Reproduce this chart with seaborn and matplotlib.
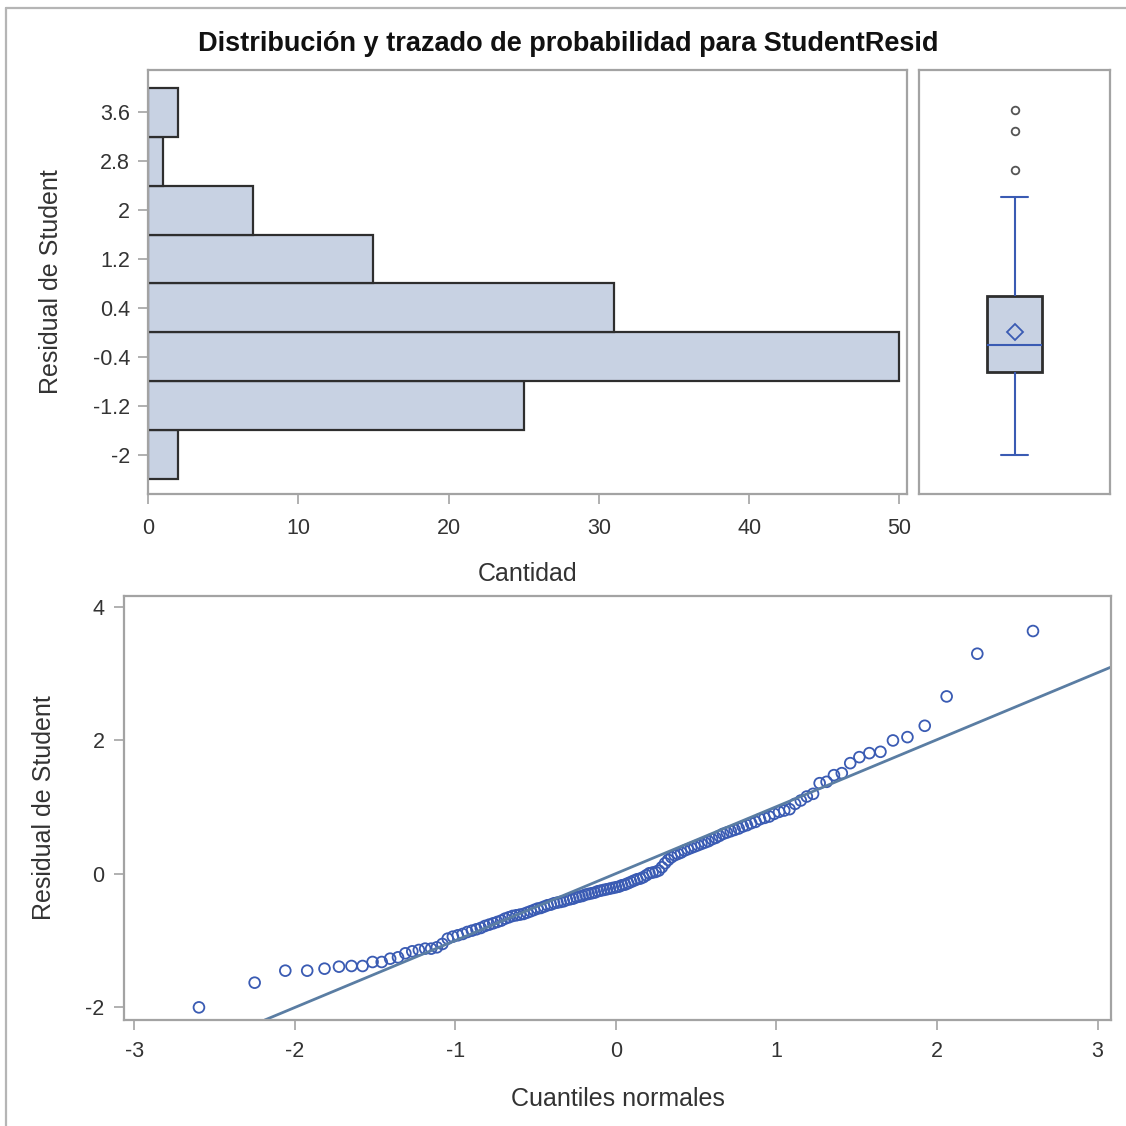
import seaborn as sns
import matplotlib.pyplot as plt
import numpy as np
import pandas as pd
from statistics import NormalDist
from matplotlib.lines import Line2D
from matplotlib.ticker import FormatStrFormatter

# --- Estilo ---
sns.set_theme(style="white")
plt.rcParams['font.family'] = ['Liberation Sans', 'DejaVu Sans']
plt.rcParams['axes.unicode_minus'] = False

# --- Datos: residuales studentizados ordenados ---
resid_bajos = [-2.00, -1.63]
resid_m12 = [-1.45, -1.45, -1.42, -1.39, -1.38, -1.38, -1.32, -1.32, -1.27,
             -1.25, -1.19, -1.16, -1.14, -1.12, -1.12, -1.10, -1.05, -0.97,
             -0.94, -0.92, -0.90, -0.87, -0.85, -0.83, -0.81]
resid_m04 = [-0.78, -0.76, -0.74, -0.72, -0.70, -0.67, -0.65, -0.63, -0.62, -0.61,
             -0.60, -0.58, -0.56, -0.54, -0.52, -0.51, -0.49, -0.47, -0.46, -0.44,
             -0.43, -0.42, -0.41, -0.39, -0.38, -0.37, -0.35, -0.34, -0.33, -0.31,
             -0.30, -0.29, -0.28, -0.26, -0.25, -0.24, -0.23, -0.22, -0.21, -0.20,
             -0.19, -0.17, -0.16, -0.14, -0.12, -0.10, -0.08, -0.07, -0.05, -0.02]
resid_p04 = [0.01, 0.02, 0.03, 0.05, 0.10, 0.16, 0.21, 0.25, 0.28, 0.30,
             0.32, 0.35, 0.37, 0.39, 0.41, 0.43, 0.45, 0.47, 0.49, 0.52,
             0.54, 0.57, 0.60, 0.62, 0.64, 0.66, 0.68, 0.71, 0.73, 0.76, 0.78]
resid_p12 = [0.82, 0.84, 0.86, 0.90, 0.93, 0.95, 0.97, 1.05, 1.10, 1.16,
             1.20, 1.36, 1.38, 1.48, 1.51]
resid_altos = [1.66, 1.75, 1.81, 1.83, 2.00, 2.05, 2.22, 2.66, 3.30, 3.64]

resid = np.array(resid_bajos + resid_m12 + resid_m04 + resid_p04 + resid_p12 + resid_altos)
df = pd.DataFrame({'StudentResid': resid})

# cuantiles normales (Blom) para el trazado de probabilidad
n = len(resid)
df['Cuantil'] = [NormalDist().inv_cdf((i - 0.375) / (n + 0.25)) for i in range(1, n + 1)]
media = df['StudentResid'].mean()
desv = df['StudentResid'].std()

ticks_hist_y = [3.6, 2.8, 2, 1.2, 0.4, -0.4, -1.2, -2]
ticks_hist_x = [0, 10, 20, 30, 40, 50]
ticks_qq_x = [-3, -2, -1, 0, 1, 2, 3]
ticks_qq_y = [-2, 0, 2, 4]

# --- Colores ---
RELLENO = '#C8D2E3'
BORDE = '#2E2E2E'
AZUL = '#3A5BB3'
LINEA = '#5A7DA3'
EJES = '#A3A3A3'
TEXTO = '#333333'

fig = plt.figure(figsize=(11.26, 11.26), dpi=100)
ax_h = fig.add_axes([0.1314, 0.5613, 0.6741, 0.3766])
ax_b = fig.add_axes([0.8162, 0.5613, 0.1696, 0.3766])
ax_q = fig.add_axes([0.1101, 0.0941, 0.8766, 0.3766])

# marco exterior
fig.add_artist(Line2D([6/1126, 6/1126], [0, 1 - 8/1126], transform=fig.transFigure, color='#B5B5B5', lw=1.6))
fig.add_artist(Line2D([6/1126, 1], [1 - 8/1126, 1 - 8/1126], transform=fig.transFigure, color='#B5B5B5', lw=1.6))

# 1. Histograma horizontal
sns.histplot(data=df, y='StudentResid', bins=8, binrange=(-2.4, 4.0),
             color=RELLENO, edgecolor=BORDE, linewidth=1.6, alpha=1, ax=ax_h)
ax_h.set_ylim(-2.64, 4.29)
ax_h.set_xlim(0, 50.5)
ax_h.set_yticks(ticks_hist_y)
ax_h.set_xticks(ticks_hist_x)
ax_h.yaxis.set_major_formatter(FormatStrFormatter('%g'))
ax_h.set_xlabel('Cantidad', fontsize=18, color=TEXTO)
ax_h.set_ylabel('Residual de Student', fontsize=18, color=TEXTO)
ax_h.xaxis.set_label_coords(0.5, -0.160)
ax_h.yaxis.set_label_coords(-0.112, 0.5)
ax_h.tick_params(axis='x', pad=10)
ax_h.tick_params(axis='y', pad=6)

# 2. Diagrama de caja
sns.boxplot(data=df, y='StudentResid', ax=ax_b, width=0.29, showmeans=True,
            color=RELLENO, saturation=1, linecolor=AZUL, linewidth=1.5,
            boxprops=dict(facecolor=RELLENO, edgecolor=BORDE, linewidth=2),
            whiskerprops=dict(color=AZUL, linewidth=1.5),
            capprops=dict(color=AZUL, linewidth=1.5),
            medianprops=dict(color=AZUL, linewidth=1.5),
            meanprops=dict(marker='D', markerfacecolor='none', markeredgecolor=AZUL,
                           markeredgewidth=1.3, markersize=8.5),
            flierprops=dict(marker='o', markerfacecolor='none', markeredgecolor='#555555',
                            markeredgewidth=1.3, markersize=5.5))
ax_b.set_ylim(-2.64, 4.29)
ax_b.set_xlim(-0.5, 0.5)
ax_b.set_xticks([])
ax_b.set_yticks([])
ax_b.set_xlabel('')
ax_b.set_ylabel('')

# 3. Trazado de probabilidad normal
sns.scatterplot(data=df, x='Cuantil', y='StudentResid', ax=ax_q, s=60, color=AZUL)
puntos = ax_q.collections[-1]
puntos.set_facecolor('none')
puntos.set_edgecolor(AZUL)
puntos.set_linewidth(1.3)
ax_q.axline((0, media), slope=desv, color=LINEA, lw=2)
ax_q.set_xlim(-3.065, 3.084)
ax_q.set_ylim(-2.19, 4.165)
ax_q.set_xticks(ticks_qq_x)
ax_q.set_yticks(ticks_qq_y)
ax_q.set_xlabel('Cuantiles normales', fontsize=18, color=TEXTO)
ax_q.set_ylabel('Residual de Student', fontsize=18, color=TEXTO)
ax_q.xaxis.set_label_coords(0.5, -0.158)
ax_q.yaxis.set_label_coords(-0.069, 0.5)
ax_q.tick_params(axis='x', pad=8)
ax_q.tick_params(axis='y', pad=7)

for ax in [ax_h, ax_b, ax_q]:
    for sp in ax.spines.values():
        sp.set_visible(True)
        sp.set_color(EJES)
        sp.set_linewidth(1.6)
for ax in [ax_h, ax_q]:
    ax.tick_params(bottom=True, left=True, direction='out', length=7, width=1.2,
                   color=EJES, labelsize=15.5, labelcolor=TEXTO)

fig.text(0.5045, 0.961, 'Distribución y trazado de probabilidad para StudentResid',
         ha='center', va='center', fontsize=19.5, fontweight='bold', color='#111111')

plt.savefig('out.png', dpi=100)
